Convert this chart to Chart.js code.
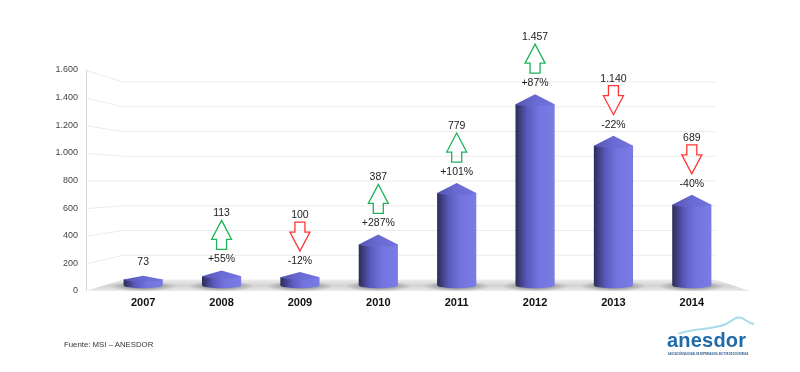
<!DOCTYPE html>
<html>
<head>
<meta charset="utf-8">
<script src="https://cdn.jsdelivr.net/npm/chart.js@4.4.0/dist/chart.umd.min.js"></script>
<style>
    html, body { margin: 0; padding: 0; background: #fff; }
    #wrap { position: relative; width: 800px; height: 372px; }
    #fuente { position: absolute; left: 64px; top: 340px; font: 7.8px "Liberation Sans", sans-serif; color: #333; }
    #logo { position: absolute; left: 664px; top: 314px; width: 92px; height: 46px; }
    #logo .name { position: absolute; left: 3px; top: 15px; font: bold 20px "Liberation Sans", sans-serif; color: #1f6aa8; letter-spacing: 0.2px; }
    #logo .sub { position: absolute; left: 4px; top: 38px; font: bold 3.4px "Liberation Sans", sans-serif; color: #1f4f86; white-space: nowrap; transform: scaleX(0.68); transform-origin: 0 0; }
</style>
</head>
<body>
<div id="wrap">
    <canvas id="salesChart" width="800" height="372"></canvas>
    <div id="fuente">Fuente: MSI – ANESDOR</div>
    <div id="logo">
        <svg width="92" height="20" style="position:absolute;left:0;top:0">
            <path d="M14 20 C 30 14, 48 16, 62 10 C 70 6, 72 2, 78 4 C 82 6, 84 9, 90 10" stroke="#a8dbea" stroke-width="2" fill="none"/>
        </svg>
        <div class="name">anesdor</div>
        <div class="sub">ASOCIACIÓN NACIONAL DE EMPRESAS DEL SECTOR DE DOS RUEDAS</div>
    </div>
</div>
<script>
const years = ['2007', '2008', '2009', '2010', '2011', '2012', '2013', '2014'];
const units = [73, 113, 100, 387, 779, 1457, 1140, 689];
const changes = ['', '+55%', '-12%', '+287%', '+101%', '+87%', '-22%', '-40%'];
const yTicks = [0, 200, 400, 600, 800, 1000, 1200, 1400, 1600];

const colors = {
    Grid: '#ebebeb',
    Axis: '#d8d8d8',
    Up: '#1db35a',
    Down: '#ff3535',
    Text: '#222'
};

// spanish thousands separator
const fmt = v => String(v).replace(/\B(?=(\d{3})+(?!\d))/g, '.');

const depth = 0.896; // back wall shrink toward centre

const room = {
    id: 'room',
    beforeDatasetsDraw(chart) {
        const { ctx, chartArea: a, scales: { y } } = chart;
        const cy = (a.top + a.bottom) / 2;
        const back = p => cy + depth * (p - cy);
        const fl = a.left - 18, bl = a.left + 19, br = a.right - 16, fr = a.right + 19;
        ctx.save();

        // floor
        const f0 = y.getPixelForValue(0), b0 = back(f0);
        const fg = ctx.createLinearGradient(0, b0, 0, f0);
        fg.addColorStop(0, '#ececec');
        fg.addColorStop(0.55, '#d3d3d3');
        fg.addColorStop(1, '#ebebeb');
        ctx.fillStyle = fg;
        ctx.beginPath();
        ctx.moveTo(fl, f0);
        ctx.lineTo(bl, b0);
        ctx.lineTo(br, b0);
        ctx.lineTo(fr, f0);
        ctx.closePath();
        ctx.fill();

        // grid lines, bent back to the wall
        ctx.strokeStyle = colors.Grid;
        ctx.lineWidth = 1;
        yTicks.slice(1).forEach(v => {
            const f = y.getPixelForValue(v);
            ctx.beginPath();
            ctx.moveTo(fl, f + 0.5);
            ctx.lineTo(bl, back(f) + 0.5);
            ctx.lineTo(br, back(f) + 0.5);
            ctx.stroke();
        });
        ctx.strokeStyle = colors.Axis;
        ctx.beginPath();
        ctx.moveTo(fl + 0.5, y.getPixelForValue(1600));
        ctx.lineTo(fl + 0.5, f0);
        ctx.stroke();

        // shadows under the columns
        chart.getDatasetMeta(0).data.forEach(bar => {
            ctx.save();
            ctx.translate(bar.x, bar.base + 1);
            ctx.scale(1, 0.16);
            const rg = ctx.createRadialGradient(0, 0, 0, 0, 0, bar.width * 0.85);
            rg.addColorStop(0, 'rgba(40,40,40,0.6)');
            rg.addColorStop(1, 'rgba(40,40,40,0)');
            ctx.fillStyle = rg;
            ctx.beginPath();
            ctx.arc(0, 0, bar.width * 0.85, 0, Math.PI * 2);
            ctx.fill();
            ctx.restore();
        });
        ctx.restore();
    },
    afterDatasetsDraw(chart) {
        const { ctx } = chart;
        ctx.save();
        chart.getDatasetMeta(0).data.forEach((bar, i) => {
            const x = bar.x, top = bar.y, base = bar.base, r = bar.width / 2;
            const cone = Math.min(10, (base - top) * 0.4);
            const sh = top + cone;

            const g = ctx.createLinearGradient(x - r, 0, x + r, 0);
            g.addColorStop(0, '#2c2c58');
            g.addColorStop(0.3, '#5a5abd');
            g.addColorStop(0.6, '#7474de');
            g.addColorStop(1, '#7b7be6');
            ctx.fillStyle = g;
            ctx.beginPath();
            ctx.moveTo(x - r, sh);
            ctx.lineTo(x - r, base);
            ctx.ellipse(x, base, r, 3, 0, Math.PI, 0, true);
            ctx.lineTo(x + r, sh);
            ctx.closePath();
            ctx.fill();

            const cg = ctx.createLinearGradient(x - r, 0, x + r, 0);
            cg.addColorStop(0, '#5454b2');
            cg.addColorStop(0.5, '#6a6ad4');
            cg.addColorStop(1, '#7373e0');
            ctx.fillStyle = cg;
            ctx.beginPath();
            ctx.moveTo(x - r, sh);
            ctx.lineTo(x, top);
            ctx.lineTo(x + r, sh);
            ctx.ellipse(x, sh, r, 2, 0, 0, Math.PI, false);
            ctx.closePath();
            ctx.fill();

            // labels and arrows
            ctx.fillStyle = colors.Text;
            ctx.font = '10.5px "Liberation Sans", sans-serif';
            ctx.textAlign = 'center';
            ctx.textBaseline = 'middle';
            const c = changes[i];
            if (!c) {
                ctx.fillText(fmt(units[i]), x, top - 14);
                return;
            }
            ctx.fillText(fmt(units[i]), x, top - 57);
            ctx.fillText(c, x, top - 11);
            const t = top - 50, b = top - 21;
            ctx.lineWidth = 1.3;
            ctx.beginPath();
            if (c[0] === '+') {
                ctx.strokeStyle = colors.Up;
                ctx.moveTo(x, t);
                ctx.lineTo(x + 10, t + 19);
                ctx.lineTo(x + 5, t + 19);
                ctx.lineTo(x + 5, b);
                ctx.lineTo(x - 5, b);
                ctx.lineTo(x - 5, t + 19);
                ctx.lineTo(x - 10, t + 19);
            } else {
                ctx.strokeStyle = colors.Down;
                ctx.moveTo(x - 5, t);
                ctx.lineTo(x + 5, t);
                ctx.lineTo(x + 5, t + 10);
                ctx.lineTo(x + 10, t + 10);
                ctx.lineTo(x, b);
                ctx.lineTo(x - 10, t + 10);
                ctx.lineTo(x - 5, t + 10);
            }
            ctx.closePath();
            ctx.stroke();
        });
        ctx.restore();
    }
};

new Chart(document.getElementById('salesChart'), {
    type: 'bar',
    data: {
        labels: years,
        datasets: [{
            label: 'Unidades',
            data: units,
            yAxisID: 'yBars',
            backgroundColor: 'rgba(0,0,0,0)',
            barPercentage: 0.5,
            categoryPercentage: 1
        }]
    },
    options: {
        responsive: false,
        animation: false,
        layout: { padding: { top: 70, right: 69, bottom: 0, left: 0 } },
        plugins: { legend: { display: false }, tooltip: { enabled: false } },
        scales: {
            x: {
                grid: { display: false, drawTicks: false },
                border: { display: false },
                ticks: {
                    color: '#111',
                    padding: 5,
                    font: { family: 'Liberation Sans', size: 11, weight: 'bold' }
                },
                afterFit: axis => { axis.height = 81; }
            },
            y: {
                min: 0,
                max: 1600,
                afterBuildTicks: axis => { axis.ticks = yTicks.map(v => ({ value: v })); },
                grid: { display: false, drawTicks: false },
                border: { display: false },
                ticks: {
                    color: '#444',
                    padding: 26,
                    font: { family: 'Liberation Sans', size: 9 },
                    callback: v => fmt(v)
                },
                afterFit: axis => { axis.width = 104; }
            },
            // columns stand halfway between the front edge and the back wall
            yBars: {
                display: false,
                min: -44,
                max: 1641
            }
        }
    },
    plugins: [room]
});
</script>
</body>
</html>
